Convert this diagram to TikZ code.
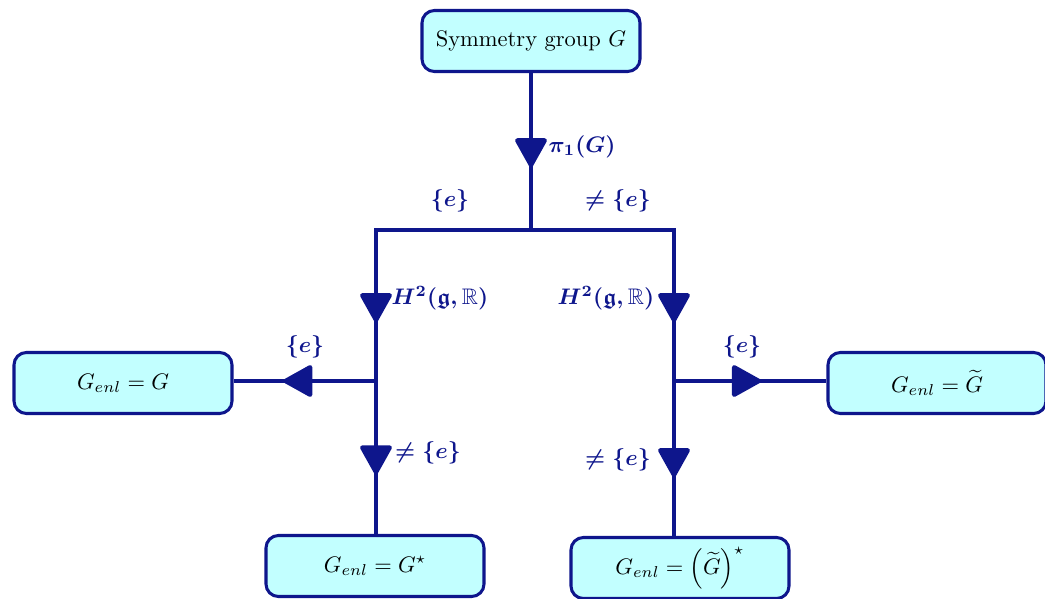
\documentclass[tikz,border=0pt]{standalone}
\usepackage{amsmath,amssymb,bm}
\usetikzlibrary{arrows.meta,decorations.markings}
\definecolor{navy}{RGB}{14,22,140}
\definecolor{boxfill}{RGB}{194,255,255}
\tikzset{
  px/.style={x=0.4445pt,y=-0.4445pt},
  box/.style={draw=navy,line width=1.35pt,fill=boxfill,rounded corners=5.5pt,minimum width=218*0.4445pt,minimum height=61*0.4445pt,inner sep=0pt},
  conn/.style={draw=navy,line width=2pt},
  lab/.style={text=navy,font=\boldmath,inner sep=0pt},
  midarrow/.style={postaction={decorate},decoration={markings,mark=at position #1 with {\arrow{Triangle[length=14pt,width=15pt,round]}}}},
}
\begin{document}
\begin{tikzpicture}[px]
\useasboundingbox (0,0) rectangle (1045,598);
\node[box] (top) at (531,41) {Symmetry group $G$};
\node[box] (lbox) at (123,383) {$G_{enl}=G$};
\node[box] (rbox) at (937,383) {$G_{enl}=\widetilde{G}$};
\node[box] (blbox) at (375,566) {$G_{enl}=G^{\star}$};
\node[box] (brbox) at (680,568) {$G_{enl}=\left(\widetilde{G}\right)^{\star}$};
\coordinate (split) at (531,230);
\coordinate (lc) at (376,230);
\coordinate (rc) at (674,230);
\coordinate (lj) at (376,381);
\coordinate (rj) at (674,381);
\draw[conn,midarrow=0.6] (top.south) -- (split);
\draw[conn,line cap=rect] (lc) -- (rc);
\draw[conn,midarrow=0.61] (lc) -- (lj);
\draw[conn,midarrow=0.61] (rc) -- (rj);
\draw[conn,midarrow=0.61] (lj) -- (lj |- blbox.north);
\draw[conn,midarrow=0.62] (rj) -- (rj |- brbox.north);
\draw[conn,midarrow=0.65] (lj) -- (lj -| lbox.east);
\draw[conn,midarrow=0.57] (rj) -- (rj -| rbox.west);
\node[lab] (l1) at (582,147) {$\pi_1(G)$};
\node[lab] (l2) at (450,201) {$\{e\}$};
\node[lab] (l3) at (618,201) {$\neq\{e\}$};
\node[lab] (l4) at (440,298) {$H^2(\mathfrak{g},\mathbb{R})$};
\node[lab] (l5) at (606,298) {$H^2(\mathfrak{g},\mathbb{R})$};
\node[lab] (l6) at (305,347) {$\{e\}$};
\node[lab] (l7) at (742,347) {$\{e\}$};
\node[lab] (l8) at (428,453) {$\neq\{e\}$};
\node[lab] (l9) at (618,460) {$\neq\{e\}$};
\end{tikzpicture}
\end{document}
